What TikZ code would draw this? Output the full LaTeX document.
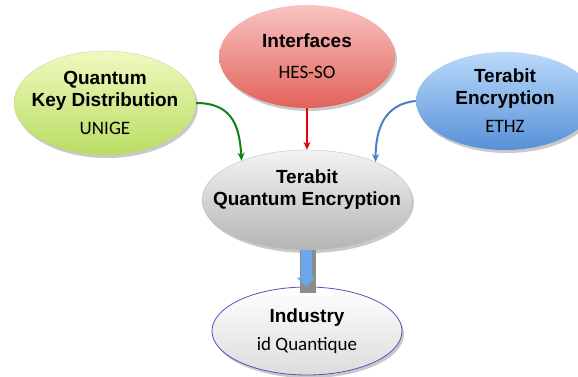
\documentclass[tikz,border=0pt]{standalone}
\usepackage{fontspec}
\setmainfont{Liberation Sans}
\newfontfamily\subfnt{Carlito}
\usetikzlibrary{shapes.geometric,shadows,arrows.meta}
\definecolor{gtop}{HTML}{F0F9C0}
\definecolor{gbot}{HTML}{B9DD62}
\definecolor{rtop}{HTML}{F9C4C2}
\definecolor{rbot}{HTML}{E2625A}
\definecolor{btop}{HTML}{BBDAFB}
\definecolor{bbot}{HTML}{5790D8}
\definecolor{ctop}{HTML}{F4F4F4}
\definecolor{cbot}{HTML}{B4B4B4}
\definecolor{itop}{HTML}{FFFFFF}
\definecolor{ibot}{HTML}{DCDCDC}
\definecolor{iborder}{HTML}{4F55C0}
\definecolor{gline}{HTML}{118211}
\definecolor{rline}{HTML}{E80000}
\definecolor{bline}{HTML}{4A80C4}
\definecolor{fatarrow}{HTML}{6EA6EC}
\newcommand\subt[1]{{\subfnt\mdseries\fontsize{19}{22}\selectfont #1}}
\tikzset{
  bubble/.style={ellipse, inner sep=0pt,
    drop shadow={shadow xshift=2pt, shadow yshift=-3pt, opacity=0.3, fill=black!70}},
  btext/.style={align=center, inner sep=0pt, font=\fontsize{19}{22}\selectfont\bfseries},
  conn/.style={line width=2pt, -{Stealth[length=8pt,width=7pt]}},
}
\begin{document}
\begin{tikzpicture}[x=1pt,y=-1pt]
\useasboundingbox (0,0) rectangle (578,377);
\clip (0,0) rectangle (578,377);

\node[bubble, top color=gtop, bottom color=gbot, draw=gbot!80!black!60, line width=0.3pt,
  minimum width=182pt, minimum height=104pt] (qkd) at (105,103) {};
\node[btext] (qkdt) at (qkd.center) {Quantum\\Key Distribution\\[6pt]\subt{UNIGE}};

\node[bubble, top color=rtop, bottom color=rbot, minimum width=176pt, minimum height=103pt]
  (ifc) at (307,56.5) {};
\node[btext] (ifct) at (ifc.center) {Interfaces\\[9pt]\subt{HES-SO}};

\node[bubble, top color=btop, bottom color=bbot, minimum width=178pt, minimum height=98pt]
  (te) at (505,101) {};
\node[btext] (tet) at (te.center) {Terabit\\Encryption\\[6pt]\subt{ETHZ}};

\node[bubble, top color=ctop, bottom color=cbot, draw=black!25, line width=0.4pt,
  minimum width=210pt, minimum height=100pt] (tqe) at (307,200) {};
\node[btext] (tqet) at ([yshift=10pt]tqe.center) {Terabit\\Quantum Encryption};

\node[bubble, top color=itop, bottom color=ibot, draw=iborder, line width=0.8pt,
  minimum width=190pt, minimum height=88pt] (ind) at (307,331) {};
\node[btext] (indt) at (ind.center) {Industry\\[6pt]\subt{id Quantique}};

% connectors
\draw[conn, gline] (qkd.east) .. controls +(38,0) and +(-2,-32) .. (tqe.149);
\draw[conn, rline, line width=1.5pt] (ifc.south) -- (tqe.north);
\draw[conn, bline] (te.west) .. controls +(-32,3) and +(0,-32) .. (tqe.29);

% fat arrow
\draw[line width=16pt, black!45] ([xshift=0.5pt]tqe.south) -- ([xshift=0.5pt,yshift=-6pt]ind.north);
\draw[line width=11pt, fatarrow, -{Triangle[width=18pt,length=9pt]}] ([xshift=-1pt]tqe.south) -- ([xshift=-1pt]ind.north);
\end{tikzpicture}
\end{document}
